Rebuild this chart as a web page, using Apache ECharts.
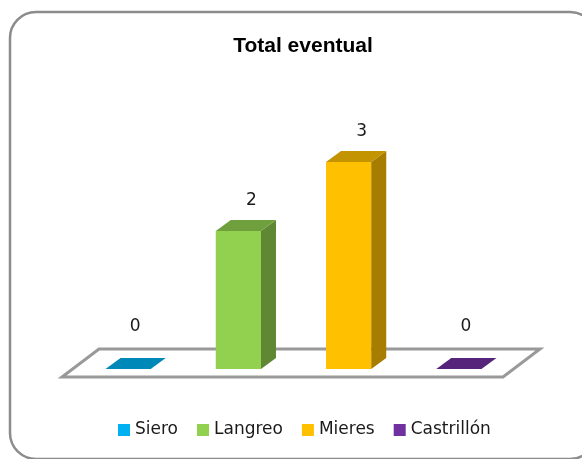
<!DOCTYPE html>
<html>
<head>
<meta charset="utf-8">
<script src="https://cdn.jsdelivr.net/npm/echarts@6/dist/echarts.min.js"></script>
<style>
  html, body { margin: 0; padding: 0; background: #fff; }
  #chart { width: 582px; height: 459px; }
</style>
</head>
<body>
<div id="chart"></div>
<script>
// datos del gráfico
var categories = ['Siero', 'Langreo', 'Mieres', 'Castrillón'];
var values = [0, 2, 3, 0];
var colors = ['#00B0F0', '#92D050', '#FFC000', '#7030A0'];

var chart = echarts.init(document.getElementById('chart'));

// oscurecer un color para las caras laterales y superiores
function shade(hex, f) {
  var n = parseInt(hex.slice(1), 16);
  var r = Math.round(((n >> 16) & 255) * f);
  var g = Math.round(((n >> 8) & 255) * f);
  var b = Math.round((n & 255) * f);
  return 'rgb(' + r + ',' + g + ',' + b + ')';
}

var DX = 15, DY = -11;

function renderBar(color) {
  return function (params, api) {
    var x = api.value(0), v = api.value(1);
    var base = api.coord([x, 0]);
    var top = api.coord([x, v]);
    var w = api.size([1, 0])[0] * 0.41;
    var l = base[0] - w / 2, r = base[0] + w / 2;
    var children = [];
    if (v > 0) {
      children.push({
        type: 'rect',
        shape: { x: l, y: top[1], width: w, height: base[1] - top[1] },
        style: { fill: color }
      });
      children.push({
        type: 'polygon',
        shape: { points: [[r, top[1]], [r + DX, top[1] + DY], [r + DX, base[1] + DY], [r, base[1]]] },
        style: { fill: shade(color, 0.65) }
      });
    }
    children.push({
      type: 'polygon',
      shape: { points: [[l, top[1]], [l + DX, top[1] + DY], [r + DX, top[1] + DY], [r, top[1]]] },
      style: { fill: shade(color, 0.77) }
    });
    children.push({
      type: 'text',
      style: {
        text: String(v),
        x: base[0] + (v === 0 ? 7 : 13),
        y: top[1] - (v === 0 ? 42 : 30),
        align: 'center',
        verticalAlign: 'middle',
        fontFamily: 'DejaVu Sans',
        fontSize: 17,
        fill: '#1a1a1a'
      }
    });
    return { type: 'group', children: children };
  };
}

// suelo 3D
function renderFloor(params, api) {
  var cs = params.coordSys;
  var y0 = api.coord([0, 0])[1];
  var x1 = cs.x, x2 = cs.x + cs.width;
  return {
    type: 'polygon',
    shape: { points: [[x1 - 11, y0 + 8], [x2 - 11, y0 + 8], [x2 + 26, y0 - 20], [x1 + 26, y0 - 20]] },
    style: { fill: '#fff', stroke: '#999', lineWidth: 3, lineJoin: 'miter' }
  };
}

var series = [{
  type: 'custom',
  name: 'floor',
  renderItem: renderFloor,
  data: [[0, 0]],
  z: 1,
  silent: true
}];
categories.forEach(function (c, i) {
  series.push({
    type: 'custom',
    name: c,
    renderItem: renderBar(colors[i]),
    itemStyle: { color: colors[i] },
    data: [[i, values[i]]],
    clip: false,
    z: 2
  });
});

var option = {
  animation: false,
  title: {
    text: 'Total eventual',
    left: 303,
    top: 36,
    textAlign: 'center',
    padding: 0,
    textStyle: { fontFamily: 'Liberation Sans', fontSize: 21, fontWeight: 'bold', color: '#000' }
  },
  legend: {
    data: categories,
    left: 118,
    top: 421,
    padding: 0,
    itemGap: 19,
    itemWidth: 12,
    itemHeight: 12,
    icon: 'rect',
    textStyle: { fontFamily: 'DejaVu Sans', fontSize: 17, lineHeight: 18, color: '#1a1a1a' }
  },
  grid: { left: 73, right: 68, top: 93, bottom: 90 },
  xAxis: {
    type: 'category',
    data: categories,
    show: false
  },
  yAxis: {
    type: 'value',
    min: 0,
    max: 4,
    show: false
  },
  graphic: [{
    type: 'rect',
    shape: { x: 10, y: 12, width: 586, height: 447, r: 26 },
    style: { fill: 'none', stroke: '#8c8c8c', lineWidth: 2.5 },
    z: 0
  }],
  series: series
};
chart.setOption(option);
</script>
</body>
</html>
